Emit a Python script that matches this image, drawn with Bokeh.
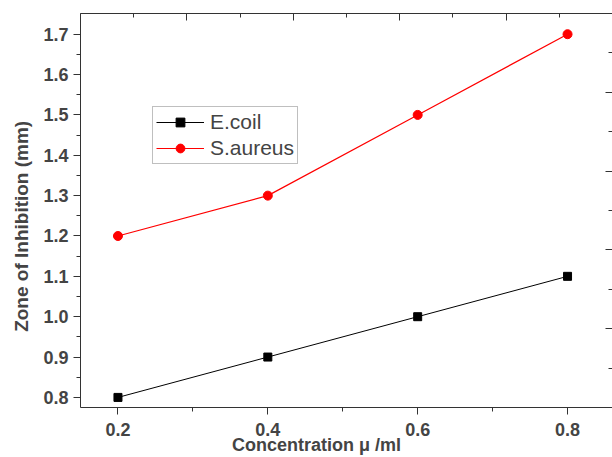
from bokeh.plotting import figure
from bokeh.models import (Range1d, LinearAxis, FixedTicker, Legend, LegendItem,
                          PrintfTickFormatter)
from bokeh.embed import file_html
from bokeh.resources import INLINE

# ---- data ----
concentration = [0.2, 0.4, 0.6, 0.8]
ecoli = [0.8, 0.9, 1.0, 1.1]
saureus = [1.2, 1.3, 1.5, 1.7]
x_ticks = [0.2, 0.4, 0.6, 0.8]
x_minor = [0.3, 0.5, 0.7]
y_ticks = [0.8, 0.9, 1.0, 1.1, 1.2, 1.3, 1.4, 1.5, 1.6, 1.7]
y_minor = [0.85, 0.95, 1.05, 1.15, 1.25, 1.35, 1.45, 1.55, 1.65]
frame_ticks = [0.0, 0.2, 0.4, 0.6, 0.8, 1.0]
frame_minor = [0.1, 0.3, 0.5, 0.7, 0.9]
x_title = "Concentration \u03bc /ml"
y_title = "Zone of Inhibition (mm)"

FONT = "Liberation Sans"
NB = "\u00a0"

p = figure(width=612, height=457, output_backend="svg", toolbar_location=None,
           x_range=Range1d(0.15, 0.86), y_range=Range1d(0.775, 1.7513),
           min_border_left=80, min_border_right=0, min_border_top=13,
           min_border_bottom=50, x_axis_location="below", y_axis_location="left")
p.outline_line_color = None
p.grid.visible = False
p.background_fill_color = "white"
p.border_fill_color = "white"

p.extra_x_ranges = {"fx": Range1d(0, 1)}
p.extra_y_ranges = {"fy": Range1d(0, 1)}

AX = "#333333"

# bottom axis
xa = p.xaxis[0]
xa.ticker = FixedTicker(ticks=x_ticks, minor_ticks=x_minor)
xa.formatter = PrintfTickFormatter(format="%.1f")
xa.axis_label = x_title + NB * 12
xa.axis_label_text_font = FONT
xa.axis_label_text_font_style = "bold"
xa.axis_label_text_font_size = "18px"
xa.axis_label_standoff = -4
xa.major_label_text_font = FONT
xa.major_label_text_font_style = "bold"
xa.major_label_text_font_size = "18px"
xa.major_label_standoff = 8
xa.major_tick_in = 0
xa.major_tick_out = 7
xa.minor_tick_in = 0
xa.minor_tick_out = 4
xa.axis_line_color = AX
xa.major_tick_line_color = AX
xa.minor_tick_line_color = AX

# left axis
ya = p.yaxis[0]
ya.ticker = FixedTicker(ticks=y_ticks, minor_ticks=y_minor)
ya.formatter = PrintfTickFormatter(format="%.1f")
ya.axis_label = y_title + NB * 6
ya.axis_label_text_font = FONT
ya.axis_label_text_font_style = "bold"
ya.axis_label_text_font_size = "19px"
ya.axis_label_standoff = 8
ya.major_label_text_font = FONT
ya.major_label_text_font_style = "bold"
ya.major_label_text_font_size = "18px"
ya.major_label_standoff = 5
ya.major_tick_in = 0
ya.major_tick_out = 7
ya.minor_tick_in = 0
ya.minor_tick_out = 4
ya.axis_line_color = AX
ya.major_tick_line_color = AX
ya.minor_tick_line_color = AX

# top and right frame axes (ticks inward, no labels)
top = LinearAxis(x_range_name="fx",
                 ticker=FixedTicker(ticks=frame_ticks, minor_ticks=frame_minor),
                 major_label_text_font_size="0px", major_label_standoff=0,
                 major_tick_in=7, major_tick_out=0, minor_tick_in=4, minor_tick_out=0,
                 axis_line_color=AX, major_tick_line_color=AX,
                 minor_tick_line_color=AX)
top.major_label_overrides = {t: "" for t in frame_ticks}
p.add_layout(top, "above")

right = LinearAxis(y_range_name="fy",
                   ticker=FixedTicker(ticks=frame_ticks, minor_ticks=frame_minor),
                   major_label_text_font_size="0px", major_label_standoff=0,
                   major_tick_in=7, major_tick_out=0, minor_tick_in=4, minor_tick_out=0,
                   axis_line_color=None, major_tick_line_color=AX,
                   minor_tick_line_color=AX)
right.major_label_overrides = {t: "" for t in frame_ticks}
p.add_layout(right, "right")

# series
l1 = p.line(concentration, ecoli, line_color="black", line_width=1)
m1 = p.scatter(concentration, ecoli, marker="square", size=8, fill_color="black",
               line_color="black")
l2 = p.line(concentration, saureus, line_color="#ff0000", line_width=1.2)
m2 = p.scatter(concentration, saureus, marker="circle", size=9, fill_color="#ff0000",
               line_color="#ff0000")

legend = Legend(items=[LegendItem(label="E.coil", renderers=[l1, m1]),
                       LegendItem(label="S.aureus", renderers=[l2, m2])],
                location=(72, 243), glyph_width=48, glyph_height=22,
                label_standoff=6, padding=3, spacing=2, margin=0,
                label_text_font=FONT, label_text_font_size="21px",
                label_height=22,
                border_line_color="#808080", border_line_width=1,
                background_fill_alpha=1)
p.add_layout(legend, "center")

open("out.html", "w").write(file_html(p, INLINE))
